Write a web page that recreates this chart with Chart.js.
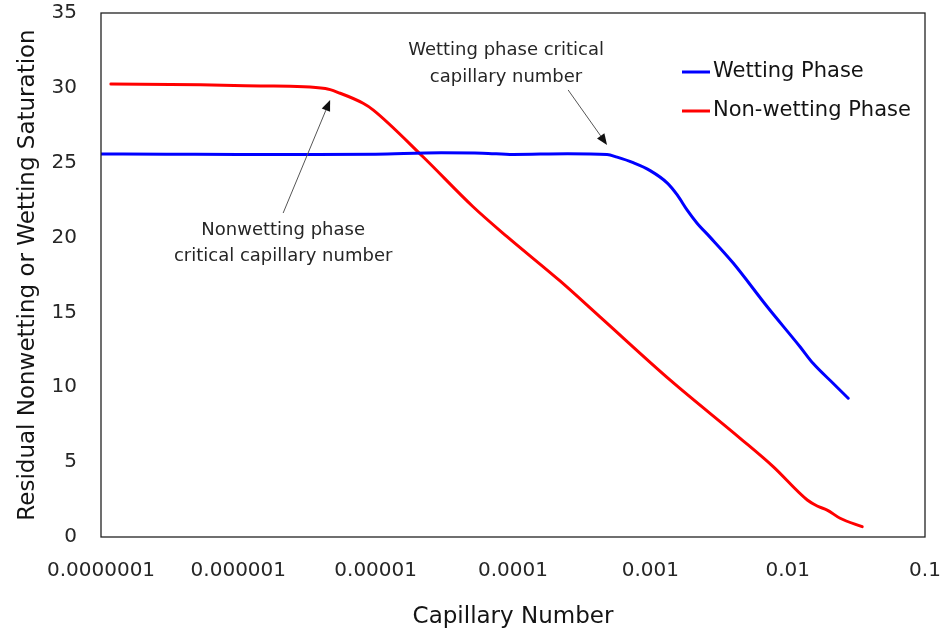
<!DOCTYPE html>
<html>
<head>
<meta charset="utf-8">
<script src="https://cdn.jsdelivr.net/npm/chart.js@4/dist/chart.umd.min.js"></script>
<style>
  html, body { margin: 0; padding: 0; background: #fff; }
  #wrap { width: 943px; height: 632px; position: relative; }
</style>
</head>
<body>
<div id="wrap"><canvas id="chart"></canvas></div>
<script>
const FONT = '"DejaVu Sans", "Open Sans", sans-serif';

// Decade ticks of the capillary-number axis
const xTickValues = [1e-7, 1e-6, 1e-5, 1e-4, 1e-3, 1e-2, 1e-1];
const xTickLabels = ['0.0000001', '0.000001', '0.00001', '0.0001', '0.001', '0.01', '0.1'];
const yTickValues = [0, 5, 10, 15, 20, 25, 30, 35];

// Wetting phase: residual saturation vs capillary number
const wettingCa  = [1e-7, 3e-7, 1e-6, 3e-6, 1e-5, 3e-5, 6e-5, 1e-4, 2.5e-4, 4.84e-4, 5.73e-4, 7.5e-4, 9.97e-4, 1.33e-3, 1.57e-3, 1.85e-3, 2.19e-3, 2.72e-3, 4.01e-3, 7.1e-3, 1.23e-2, 1.53e-2, 2.14e-2, 2.76e-2];
const wettingSat = [25.58, 25.57, 25.55, 25.55, 25.57, 25.66, 25.64, 25.55, 25.60, 25.55, 25.37, 25.00, 24.47, 23.64, 22.85, 21.85, 20.96, 20.03, 18.30, 15.38, 12.71, 11.60, 10.27, 9.27];

// Non-wetting phase: residual saturation vs capillary number
const nonwettingCa  = [1.18e-7, 5.3e-7, 1.45e-6, 4.3e-6, 5.51e-6, 8.1e-6, 9.57e-6, 2.21e-5, 5.12e-5, 9.05e-5, 2.2e-4, 4.3e-4, 1.39e-3, 4.51e-3, 7.84e-3, 1.39e-2, 1.64e-2, 1.94e-2, 2.41e-2, 3.49e-2];
const nonwettingSat = [30.26, 30.20, 30.13, 29.96, 29.64, 28.97, 28.53, 25.40, 22.06, 20.06, 17.10, 14.70, 10.49, 6.59, 4.70, 2.47, 2.07, 1.80, 1.25, 0.69];

const seriesNames  = ['Wetting Phase', 'Non-wetting Phase'];
const seriesColors = ['#0000ff', '#ff0000'];

// Callouts, placed in data units (capillary number, saturation)
const callouts = [
  { lines: ['Nonwetting phase', 'critical capillary number'], textCa: 2.12e-6, textSat: [20.5, 18.75],
    from: [2.12e-6, 21.64], to: [4.66e-6, 29.19] },
  { lines: ['Wetting phase critical', 'capillary number'], textCa: 8.9e-5, textSat: [32.53, 30.73],
    from: [2.52e-4, 29.86], to: [4.84e-4, 26.19] }
];

const toPoints = (xs, ys) => xs.map((x, i) => ({ x: x, y: ys[i] }));

// Keep tick-label overhang from shrinking the plot area
const noOverhang = s => { s.paddingTop = 0; s.paddingBottom = 0; s.paddingLeft = 0; s.paddingRight = 0; };

const framePlugin = {
  id: 'frame',
  afterDatasetsDraw(chart) {
    const { ctx, chartArea: a, scales } = chart;
    const xs = scales.x, ys = scales.y;
    ctx.save();
    // Plot-area frame
    ctx.strokeStyle = '#222';
    ctx.lineWidth = 1.3;
    ctx.strokeRect(a.left, a.top, a.right - a.left, a.bottom - a.top);

    // Callout arrows and text
    ctx.font = '18px ' + FONT;
    ctx.fillStyle = '#262626';
    ctx.textAlign = 'center';
    ctx.textBaseline = 'middle';
    callouts.forEach(c => {
      const tx = xs.getPixelForValue(c.textCa);
      c.lines.forEach((ln, i) => ctx.fillText(ln, tx, ys.getPixelForValue(c.textSat[i])));
      const x0 = xs.getPixelForValue(c.from[0]), y0 = ys.getPixelForValue(c.from[1]);
      const x1 = xs.getPixelForValue(c.to[0]),   y1 = ys.getPixelForValue(c.to[1]);
      const ang = Math.atan2(y1 - y0, x1 - x0);
      const headLen = 11, headHalf = 4.5;
      const bx = x1 - headLen * Math.cos(ang), by = y1 - headLen * Math.sin(ang);
      ctx.strokeStyle = '#555';
      ctx.lineWidth = 1;
      ctx.beginPath(); ctx.moveTo(x0, y0); ctx.lineTo(bx, by); ctx.stroke();
      ctx.fillStyle = '#111';
      ctx.beginPath();
      ctx.moveTo(x1, y1);
      ctx.lineTo(bx + headHalf * Math.sin(ang), by - headHalf * Math.cos(ang));
      ctx.lineTo(bx - headHalf * Math.sin(ang), by + headHalf * Math.cos(ang));
      ctx.closePath(); ctx.fill();
      ctx.fillStyle = '#262626';
    });

    // Legend inside the plot area, upper right
    ctx.font = '21px ' + FONT;
    ctx.textAlign = 'left';
    ctx.textBaseline = 'middle';
    const lx = a.right - 243, ly = a.top + 59, gap = 39;
    chart.data.datasets.forEach((ds, i) => {
      const y = ly + i * gap;
      ctx.strokeStyle = ds.borderColor;
      ctx.lineWidth = 3;
      ctx.beginPath(); ctx.moveTo(lx, y); ctx.lineTo(lx + 28, y); ctx.stroke();
      ctx.fillStyle = '#141414';
      ctx.fillText(ds.label, lx + 31, y);
    });
    ctx.restore();
  }
};

new Chart(document.getElementById('chart'), {
  type: 'scatter',
  data: {
    datasets: [
      { label: seriesNames[0], data: toPoints(wettingCa, wettingSat), borderColor: seriesColors[0], backgroundColor: seriesColors[0] },
      { label: seriesNames[1], data: toPoints(nonwettingCa, nonwettingSat), borderColor: seriesColors[1], backgroundColor: seriesColors[1] }
    ]
  },
  options: {
    responsive: true,
    maintainAspectRatio: false,
    animation: false,
    showLine: true,
    elements: {
      line: { borderWidth: 3, cubicInterpolationMode: 'monotone', fill: false, borderCapStyle: 'round' },
      point: { radius: 0, hoverRadius: 0 }
    },
    layout: { padding: { left: 0, right: 18, top: 13, bottom: 0 } },
    plugins: { legend: { display: false }, tooltip: { enabled: false } },
    scales: {
      x: {
        type: 'logarithmic',
        min: xTickValues[0],
        max: xTickValues[xTickValues.length - 1],
        afterBuildTicks: s => { s.ticks = xTickValues.map(v => ({ value: v })); },
        afterFit: s => { s.height = 95; noOverhang(s); },
        ticks: {
          autoSkip: false, maxRotation: 0,
          padding: 22,
          color: '#262626',
          font: { family: FONT, size: 20 },
          callback: (v) => { const i = xTickValues.findIndex(t => Math.abs(Math.log10(t) - Math.log10(v)) < 1e-6); return i >= 0 ? xTickLabels[i] : ''; }
        },
        grid: { display: false, drawTicks: false },
        border: { display: false },
        title: { display: true, text: 'Capillary Number', color: '#141414', font: { family: FONT, size: 23 }, padding: { top: 1, bottom: 1 } }
      },
      y: {
        min: 0, max: 35,
        afterBuildTicks: s => { s.ticks = yTickValues.map(v => ({ value: v })); },
        afterFit: s => { s.width = 101; noOverhang(s); },
        ticks: { padding: 24, color: '#262626', font: { family: FONT, size: 20 } },
        grid: { display: false, drawTicks: false },
        border: { display: false },
        title: { display: true, text: 'Residual Nonwetting or Wetting Saturation', color: '#141414', font: { family: FONT, size: 23 }, padding: { top: 14, bottom: 14 } }
      }
    }
  },
  plugins: [framePlugin]
});
</script>
</body>
</html>
